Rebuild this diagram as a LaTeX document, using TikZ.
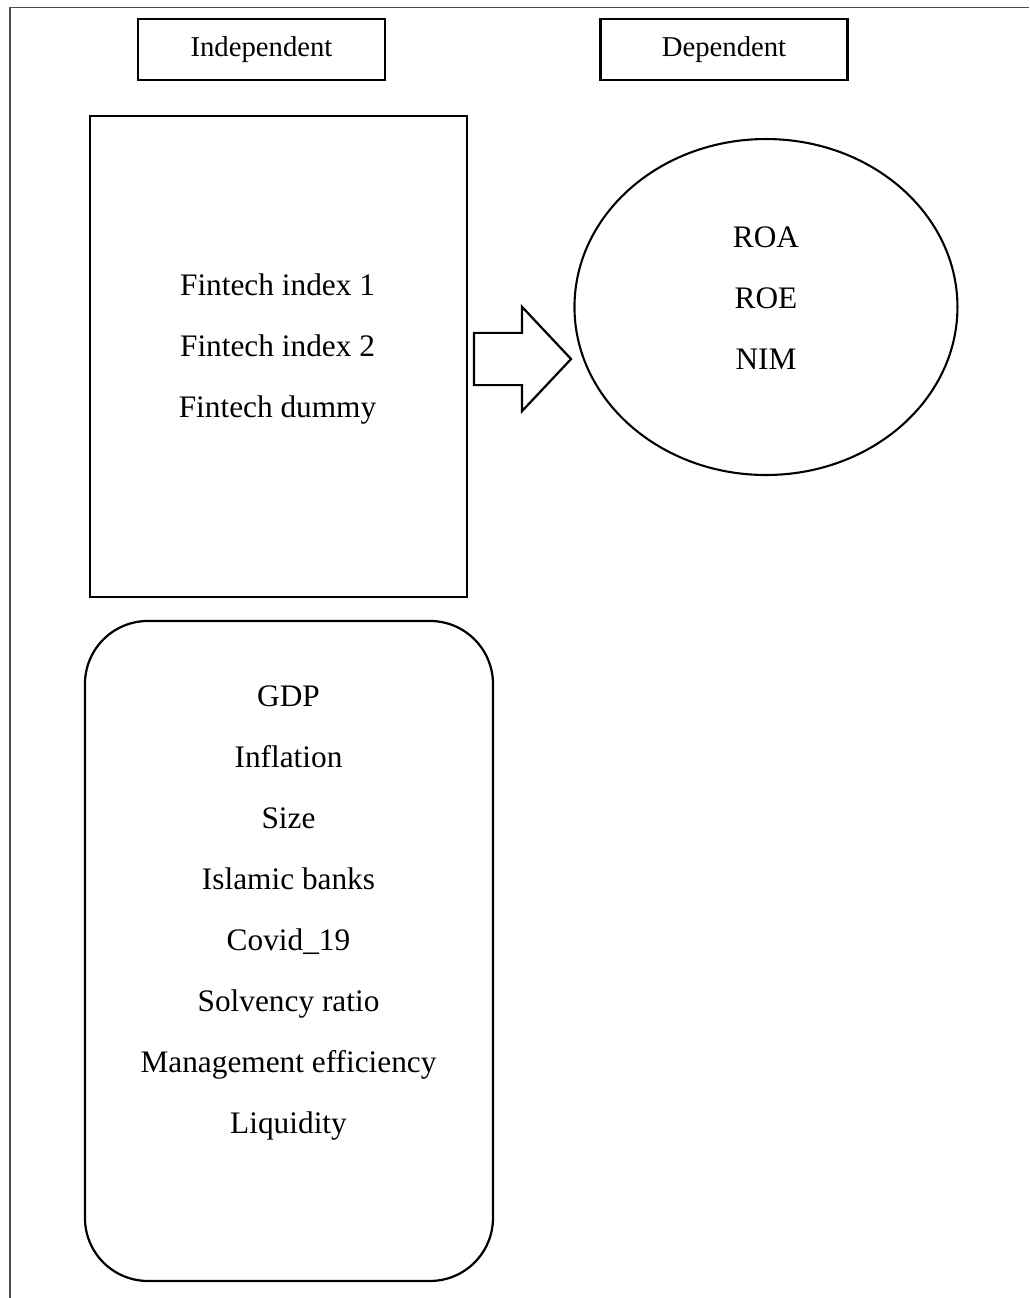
\documentclass[tikz,border=0pt]{standalone}
\usepackage{fontspec}
\setmainfont{Liberation Serif}
\usetikzlibrary{shapes.geometric,shapes.arrows,positioning,calc}

\begin{document}
\begin{tikzpicture}[
  headbox/.style={draw, line width=1pt, minimum width=3.326cm, minimum height=0.821cm,
                  inner sep=0pt, font=\fontsize{11pt}{13pt}\selectfont},
  varbox/.style={draw, line width=0.85pt, inner sep=0pt},
  varlist/.style={align=center, inner sep=0pt, font=\fontsize{12pt}{23.4pt}\selectfont},
  pageline/.style={draw=black!70, line width=0.5pt},
  bigarr/.style={draw, single arrow, line width=0.85pt, inner xsep=0pt, inner ysep=0.337cm,
                 minimum height=1.306cm,
                 single arrow head extend=0.350cm, single arrow tip angle=93.5}
]
\useasboundingbox (0,0) rectangle (13.856,-17.478);
\draw[pageline] (0.135,-17.478) -- (0.135,-0.101) -- (13.856,-0.101);

\node[headbox] (indep) at (3.521,-0.667) {Independent};
\node[headbox] (dep)   at (9.749,-0.667) {Dependent};

\node[varbox, minimum width=5.076cm, minimum height=6.477cm] (fin) at (3.750,-4.800) {};
\node[varbox, ellipse, line width=0.8pt, minimum width=5.157cm, minimum height=4.524cm] (perf) at (10.314,-4.134) {};
\node[varbox, rounded corners=0.848cm, minimum width=5.494cm, minimum height=8.887cm] (ctrl) at (3.891,-12.805) {};

\node[varlist] (fintxt)  at (3.737,-4.699)  {Fintech index 1\\Fintech index 2\\Fintech dummy};
\node[varlist] (perftxt) at (10.314,-4.013) {ROA\\ROE\\NIM};
\node[varlist] (ctrltxt) at (3.885,-12.294) {GDP\\Inflation\\Size\\Islamic banks\\Covid\_19\\Solvency ratio\\Management efficiency\\Liquidity};

\node[bigarr, anchor=tail] (effect) at (6.369,-4.834) {};

\end{tikzpicture}
\end{document}
